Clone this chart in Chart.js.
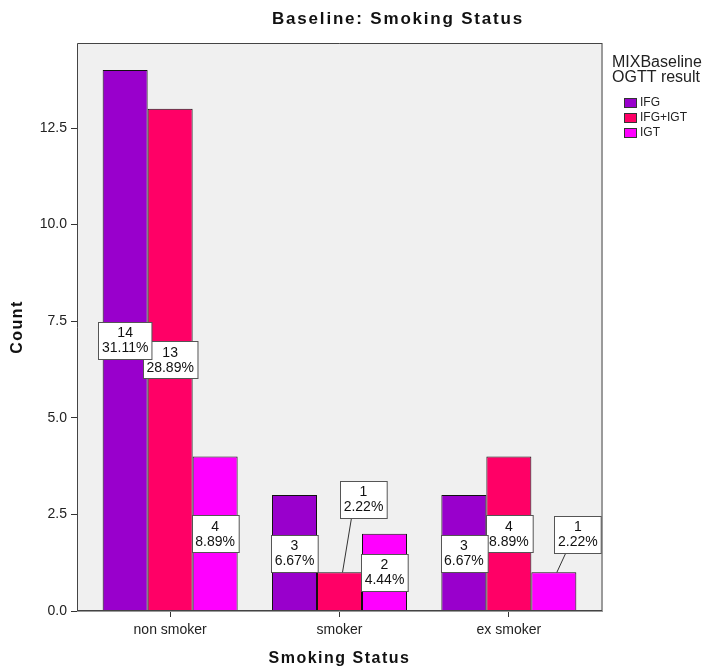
<!DOCTYPE html>
<html>
<head>
<meta charset="utf-8">
<script src="https://cdn.jsdelivr.net/npm/chart.js@4.4.1/dist/chart.umd.min.js"></script>
<style>
  html, body { margin: 0; padding: 0; background: #fff; }
  #wrap { width: 704px; height: 671px; }
</style>
</head>
<body>
<div id="wrap"><canvas id="barChart" width="704" height="671"></canvas></div>
<script>
// data
const categories = ["non smoker", "smoker", "ex smoker"];
const seriesNames = ["IFG", "IFG+IGT", "IGT"];
const ifgCounts = [14, 3, 3];
const ifgIgtCounts = [13, 1, 4];
const igtCounts = [4, 2, 1];
const yTicks = [0, 2.5, 5, 7.5, 10, 12.5];

const colors = ["#9900cc", "#ff0066", "#ff00ff"];
const FONT = "'Liberation Sans', Arial, sans-serif";

const allCounts = [ifgCounts, ifgIgtCounts, igtCounts];
const total = allCounts.flat().reduce((a, b) => a + b, 0);

// labels that sit above the bar with a leader line: [dx, dy] from bar top
const callouts = { "1:1": [24, -73], "2:2": [24, -38] };

const ctx = document.getElementById("barChart");

const spssPlugin = {
  id: "spss",
  beforeDraw(chart) {
    const c = chart.ctx;
    const a = chart.chartArea;
    c.save();
    c.fillStyle = "#ffffff";
    c.fillRect(0, 0, chart.width, chart.height);
    c.fillStyle = "#f0f0f0";
    c.fillRect(a.left, a.top, a.right - a.left, a.bottom - a.top);
    c.restore();
  },
  afterDatasetsDraw(chart) {
    const c = chart.ctx;
    const a = chart.chartArea;
    const yScale = chart.scales.y;

    // frame
    c.save();
    c.lineWidth = 2;
    c.strokeStyle = "#9a9a9a";
    c.beginPath();
    c.moveTo(a.right, a.top);
    c.lineTo(a.right, a.bottom);
    c.lineTo(a.left, a.bottom);
    c.stroke();
    c.lineWidth = 1;
    c.strokeStyle = "#444";
    c.beginPath();
    c.moveTo(a.left + 0.5, a.bottom);
    c.lineTo(a.left + 0.5, a.top + 0.5);
    c.lineTo(a.right, a.top + 0.5);
    c.stroke();
    c.beginPath();
    c.moveTo(a.left, a.bottom - 0.5);
    c.lineTo(a.right, a.bottom - 0.5);
    c.stroke();

    // value labels, last series first so the first one ends up on top
    c.font = "14px " + FONT;
    c.textAlign = "center";
    c.textBaseline = "middle";
    for (let di = allCounts.length - 1; di >= 0; di--) {
      const meta = chart.getDatasetMeta(di);
      allCounts[di].forEach((v, i) => {
        const bar = meta.data[i];
        const l1 = String(v);
        const l2 = (v / total * 100).toFixed(2) + "%";
        const w = Math.max(c.measureText(l1).width, c.measureText(l2).width) + 7;
        const h = 37;
        let cx = bar.x;
        let cy = yScale.getPixelForValue(v / 2);
        const co = callouts[di + ":" + i];
        if (co) {
          cx = bar.x + co[0];
          cy = bar.y + co[1];
          c.strokeStyle = "#333";
          c.lineWidth = 1;
          c.beginPath();
          c.moveTo(bar.x + 3, bar.y);
          c.lineTo(cx - 12, cy + h / 2);
          c.stroke();
        }
        const bx = Math.round(cx - w / 2) + 0.5;
        const by = Math.round(cy - h / 2) + 0.5;
        c.fillStyle = "#ffffff";
        c.fillRect(bx, by, w, h);
        c.strokeStyle = "#555";
        c.lineWidth = 1;
        c.strokeRect(bx, by, w, h);
        c.fillStyle = "#111";
        c.fillText(l1, cx, cy - 7);
        c.fillText(l2, cx, cy + 8);
      });
    }
    c.restore();
  },
  afterDraw(chart) {
    const c = chart.ctx;
    const a = chart.chartArea;
    c.save();
    c.fillStyle = "#111";
    c.textBaseline = "middle";

    c.textAlign = "center";
    c.font = "bold 17px " + FONT;
    c.letterSpacing = "1.8px";
    c.fillText("Baseline: Smoking Status", 398, 19);
    c.font = "bold 16px " + FONT;
    c.letterSpacing = "1.5px";
    c.fillText("Smoking Status", (a.left + a.right) / 2, 659);
    c.save();
    c.translate(18, (a.top + a.bottom) / 2);
    c.rotate(-Math.PI / 2);
    c.fillText("Count", 0, 0);
    c.restore();
    c.letterSpacing = "0px";

    // legend
    c.textAlign = "left";
    c.font = "16px " + FONT;
    c.fillStyle = "#222";
    c.fillText("MIXBaseline", 612, 63);
    c.fillText("OGTT result", 612, 78);
    c.font = "12px " + FONT;
    seriesNames.forEach((name, k) => {
      const y = 98 + k * 15;
      c.fillStyle = colors[k];
      c.fillRect(624, y, 13, 10);
      c.strokeStyle = "#333";
      c.lineWidth = 1;
      c.strokeRect(624.5, y + 0.5, 12, 9);
      c.fillStyle = "#222";
      c.fillText(name, 640, y + 5);
    });
    c.restore();
  }
};

const data = {
  datasets: allCounts.map((counts, di) => ({
    label: seriesNames[di],
    data: counts.map((v, i) => ({ x: i, y: v })),
    backgroundColor: colors[di],
    borderColor: "#111",
    borderWidth: 1,
    barPercentage: 1,
    categoryPercentage: 0.797,
  })),
};

const config = {
  type: "bar",
  data: data,
  options: {
    responsive: false,
    animation: false,
    devicePixelRatio: 1,
    layout: { padding: { top: 43, right: 102, bottom: 0, left: 0 } },
    plugins: {
      legend: { display: false },
      tooltip: { enabled: false },
    },
    scales: {
      x: {
        type: "linear",
        min: -0.55,
        max: 2.55,
        offset: false,
        afterBuildTicks: (s) => { s.ticks = categories.map((_, i) => ({ value: i })); },
        afterFit: (s) => { s.height = 60; },
        ticks: {
          callback: (v) => categories[v],
          autoSkip: false,
          maxRotation: 0,
          padding: 5,
          color: "#222",
          font: { family: FONT, size: 14 },
        },
        grid: { offset: false, drawOnChartArea: false, tickLength: 6, color: "#333" },
        border: { display: false },
      },
      y: {
        min: 0,
        max: 14.7,
        afterBuildTicks: (s) => { s.ticks = yTicks.map((v) => ({ value: v })); },
        afterFit: (s) => { s.width = 77; },
        ticks: {
          callback: (v) => v.toFixed(1),
          padding: 4,
          color: "#222",
          font: { family: FONT, size: 14 },
        },
        grid: { drawOnChartArea: false, tickLength: 6, color: "#333" },
        border: { display: false },
      },
    },
  },
  plugins: [spssPlugin],
};

new Chart(ctx, config);
</script>
</body>
</html>
